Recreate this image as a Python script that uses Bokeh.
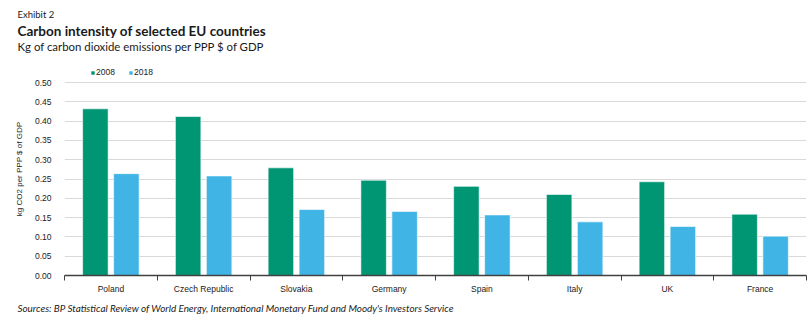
from bokeh.plotting import figure
from bokeh.layouts import column
from bokeh.models import (ColumnDataSource, FixedTicker, Legend, LegendItem, Title,
                          Range1d, CustomJSTickFormatter)
from bokeh.core.properties import value
from bokeh.embed import file_html
from bokeh.resources import INLINE

countries = ["Poland", "Czech Republic", "Slovakia", "Germany", "Spain", "Italy", "UK", "France"]
v2008 = [0.432, 0.412, 0.279, 0.247, 0.231, 0.210, 0.243, 0.159]
v2018 = [0.264, 0.258, 0.171, 0.166, 0.157, 0.139, 0.127, 0.102]
yticks = [0.0, 0.05, 0.10, 0.15, 0.20, 0.25, 0.30, 0.35, 0.40, 0.45, 0.50]

GREEN = "#009673"
BLUE = "#41b4e6"
TXT = "#1a1a1a"
FONT = "Liberation Sans"
TFONT = "Lato"

W = 812
TOP_H = 60

# ---------------- header (title block) ----------------
head = figure(width=W, height=TOP_H, output_backend="svg", toolbar_location=None,
              x_range=Range1d(0, W), y_range=Range1d(TOP_H, 0),
              x_axis_location=None, y_axis_location=None,
              min_border=0, min_border_left=0, min_border_right=0,
              min_border_top=0, min_border_bottom=0)
head.frame_align = False
head.outline_line_color = None
head.grid.grid_line_color = None
head.background_fill_color = "white"
head.border_fill_color = "white"

def head_text(txt, x, y, size, style):
    head.text(x=[x], y=[y], text=[txt], text_font=value(TFONT), text_font_size=size,
              text_font_style=style, text_color=TXT, text_baseline="middle",
              text_align="left")

head_text("Exhibit 2", 17, 14, "9.5px", "normal")
head_text("Carbon intensity of selected EU countries", 17, 30, "13.5px", "bold")
head_text("Kg of carbon dioxide emissions per PPP $ of GDP", 17, 46, "11.4px", "normal")

# ---------------- main chart ----------------
idx = list(range(len(countries)))
src = ColumnDataSource(dict(
    x08=[i + 0.333 for i in idx],
    x18=[i + 0.667 for i in idx],
    v2008=v2008, v2018=v2018,
))

p = figure(width=W, height=326 - TOP_H, output_backend="svg", toolbar_location=None,
           x_range=Range1d(0, len(countries)), y_range=Range1d(0, 0.552),
           min_border_left=64, min_border_right=6, min_border_bottom=51, min_border_top=2)
p.frame_align = False
p.outline_line_color = None
p.background_fill_color = "white"
p.border_fill_color = "white"

r08 = p.vbar(x="x08", top="v2008", width=0.275, source=src, fill_color=GREEN,
             line_color="white", line_alpha=0.6, line_width=1)
r18 = p.vbar(x="x18", top="v2018", width=0.275, source=src, fill_color=BLUE,
             line_color="white", line_alpha=0.6, line_width=1)

# x axis: labels at category centres, tick marks at boundaries
p.xaxis.ticker = FixedTicker(ticks=[i + 0.5 for i in idx],
                             minor_ticks=list(range(len(countries) + 1)))
p.xaxis.formatter = CustomJSTickFormatter(args=dict(names=countries),
                                          code="return names[Math.floor(tick)];")
p.xaxis.major_tick_line_color = None
p.xaxis.minor_tick_line_color = "#404040"
p.xaxis.minor_tick_out = 5
p.xaxis.minor_tick_in = 0
p.xaxis.axis_line_color = "#404040"
p.xaxis.axis_line_width = 1.5
p.xaxis.major_label_text_font = FONT
p.xaxis.major_label_text_font_size = "8.5px"
p.xaxis.major_label_text_color = TXT
p.xaxis.major_label_standoff = 2
p.xgrid.grid_line_color = None

# y axis
p.yaxis.ticker = FixedTicker(ticks=yticks)
p.yaxis.formatter = CustomJSTickFormatter(code="return tick.toFixed(2);")
p.yaxis.axis_line_color = None
p.yaxis.major_tick_line_color = None
p.yaxis.minor_tick_line_color = None
p.yaxis.major_label_standoff = 7
p.yaxis.major_label_text_font = FONT
p.yaxis.major_label_text_font_size = "8.5px"
p.yaxis.major_label_text_color = TXT
p.yaxis.axis_label = "kg CO2 per PPP $ of GDP"
p.yaxis.axis_label_text_font = FONT
p.yaxis.axis_label_text_font_size = "8px"
p.yaxis.axis_label_text_font_style = "normal"
p.yaxis.axis_label_text_color = TXT
p.yaxis.axis_label_standoff = 8
p.ygrid.grid_line_color = "#d9d9d9"
p.ygrid.grid_line_width = 1

legend = Legend(items=[LegendItem(label="2008", renderers=[r08]),
                       LegendItem(label="2018", renderers=[r18])],
                orientation="horizontal", location=(26, 198),
                glyph_width=5, glyph_height=5, label_standoff=1, spacing=12,
                padding=0, margin=0, border_line_color=None,
                background_fill_alpha=0,
                label_text_font=FONT, label_text_font_size="8.5px",
                label_text_color=TXT, label_height=10, label_text_baseline="middle")
p.add_layout(legend, "center")

p.add_layout(Title(text="Sources: BP Statistical Review of World Energy, International Monetary Fund and Moody's Investors Service",
                   align="left", offset=-47, text_font=TFONT, text_font_size="9.9px",
                   text_font_style="italic", text_color=TXT, standoff=7), "below")

layout = column(head, p, spacing=0)
open("out.html", "w").write(file_html(layout, INLINE))
